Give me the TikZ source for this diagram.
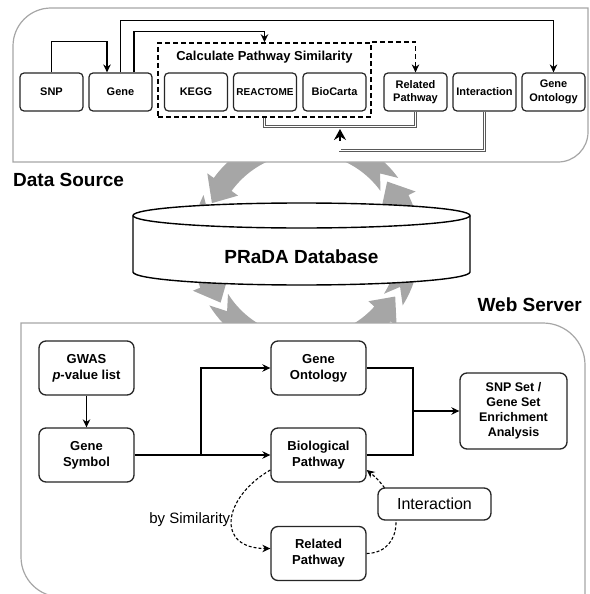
\documentclass[tikz,border=0pt]{standalone}
\usepackage{fontspec}
\setmainfont{Liberation Sans}
\usetikzlibrary{arrows.meta,positioning,calc}

\begin{document}
\begin{tikzpicture}[x=1pt,y=1pt,>={Stealth[length=8pt,width=7.5pt]},
  panel/.style={draw=black!35,line width=1.2pt,fill=white},
  srcbox/.style={rectangle,rounded corners=4pt,draw=black!85,line width=1.2pt,fill=white,align=center,
    minimum width=63pt,minimum height=38pt,inner sep=0pt,font=\bfseries\fontsize{11}{13.5}\selectfont},
  webbox/.style={rectangle,rounded corners=7pt,draw=black!85,line width=1.3pt,fill=white,align=center,
    minimum width=95pt,minimum height=54pt,inner sep=0pt,font=\bfseries\fontsize{13}{16}\selectfont},
  conn/.style={draw=black,line width=1.5pt},
  dline/.style={draw=black!65,line width=0.8pt,double=white,double distance=1.3pt},
  dcurve/.style={draw=black,line width=1.1pt,dash pattern=on 3pt off 2pt},
  heading/.style={font=\bfseries\fontsize{19}{22}\selectfont,inner sep=0pt}]
\useasboundingbox (0,0) rectangle (589,-594);
% grey cycle behind the database
\begin{scope}[shift={(306,-245)}]
\foreach \s/\e in {36/156,154/214,212/330,328/398}{
  \pgfmathsetmacro\h{\e-12}
  \fill[black!35] (\s:114) -- ({\s+8}:103) -- (\s:92) arc[start angle=\s,end angle=\h,radius=92]
    -- (\h:84) -- (\e:103) -- (\h:122) -- (\h:114) arc[start angle=\h,end angle=\s,radius=114] -- cycle;
}
\end{scope}
% panels
\draw[panel] (13,-162) -- (13,-46) arc[start angle=180,end angle=90,radius=38] -- (588,-8)
  -- (588,-132) arc[start angle=0,end angle=-90,radius=30] -- cycle;
\draw[panel] (21,-323) -- (543,-323) arc[start angle=90,end angle=0,radius=42] -- (585,-597)
  -- (61,-597) arc[start angle=270,end angle=180,radius=40] -- cycle;
\node (dsrc) [heading,anchor=west] at (13,-179.5) {Data Source};
\node (wsrv) [heading,anchor=east] at (582,-305) {Web Server};
% database
\draw[line width=1.4pt,fill=white] (133,-215.5) -- (133,-272) arc[start angle=180,end angle=360,x radius=168.5,y radius=13]
  -- (470,-215.5) arc[start angle=0,end angle=180,x radius=168.5,y radius=12.5] -- cycle;
\draw[line width=1.4pt] (133,-215.5) arc[start angle=180,end angle=360,x radius=168.5,y radius=12.5];
\node (db) [font=\bfseries\fontsize{19}{22}\selectfont] at (301.5,-257) {PRaDA Database};
%
\node (calc) [draw,line width=1.5pt,dash pattern=on 5pt off 3pt,minimum width=213pt,minimum height=74pt] at (264.5,-80) {};
\node (calcttl) [font=\bfseries\fontsize{13}{15}\selectfont] at (264.5,-57) {Calculate Pathway Similarity};
\node (snp) [srcbox] at (51.5,-92) {SNP};
\node (gene) [srcbox] at (120.5,-92) {Gene};
\node (kegg) [srcbox] at (196,-92) {KEGG};
\node (reac) [srcbox,font=\bfseries\fontsize{10}{12}\selectfont] at (265,-92) {REACTOME};
\node (bioc) [srcbox] at (334.5,-92) {BioCarta};
\node (relp) [srcbox] at (415.5,-92) {Related\\Pathway};
\node (inter) [srcbox] at (484.5,-92) {Interaction};
\node (geno) [srcbox] at (553.5,-92) {Gene\\Ontology};
%
\draw[conn,->] (snp.north) -- ++(0,31) -| ([xshift=-13.5pt]gene.north);
\draw[conn,->] (gene.north) -- ++(0,52) -| (geno.north);
\draw[conn,->] ([xshift=13.5pt]gene.north) -- ++(0,41) -| (calc.north);
\draw[conn,->,dash pattern=on 5pt off 3pt] (calc.north east) -| (relp.north);
\draw[dline] (relp.south) -- ++(0,-15) -| (calc.south);
\coordinate (fb) at (340,-140);
\coordinate (fbtip) at (340,-129);
\draw[dline] (inter.south) -- ++(0,-39) -| (fb);
\draw[conn,-{Stealth[length=11pt,width=12pt]}] ([yshift=-1pt]fb) -- (fbtip);
%
\node (gwas) [webbox] at (86.5,-368) {GWAS\\\textit{p}-value list};
\node (gsym) [webbox] at (86.5,-455) {Gene\\Symbol};
\node (gont) [webbox] at (318.5,-368) {Gene\\Ontology};
\node (biop) [webbox] at (318.5,-455) {Biological\\Pathway};
\node (rpath) [webbox] at (318.5,-553.5) {Related\\Pathway};
\node (enr) [webbox,minimum width=107pt,minimum height=76pt,font=\bfseries\fontsize{12.5}{15}\selectfont] at (513.5,-411)
  {SNP Set /\\Gene Set\\Enrichment\\Analysis};
%
\coordinate (split) at (201,-455);
\coordinate (join) at (413,-411);
\draw[conn,->] (gwas) -- (gsym);
\draw[conn,->] (gsym) -- (biop);
\draw[conn,->] (split) |- (gont);
\draw[conn] (gont) -| (join);
\draw[conn] (biop) -| (join);
\draw[conn,->] (join) -- (enr);
%
\draw[dcurve,->] ([yshift=-15pt]biop.west) to[out=210,in=180,looseness=1.8]
  node[left,inner sep=1pt,font=\fontsize{15}{17}\selectfont] {by Similarity} ([yshift=5pt]rpath.west);
\draw[dcurve,->] (rpath.east) .. controls +(39,1) and +(38,-30) .. ([yshift=-15pt]biop.east);
\node (intn) [webbox,minimum width=113pt,minimum height=32pt,font=\fontsize{16}{18}\selectfont] at (434.5,-504) {Interaction};
\end{tikzpicture}
\end{document}
